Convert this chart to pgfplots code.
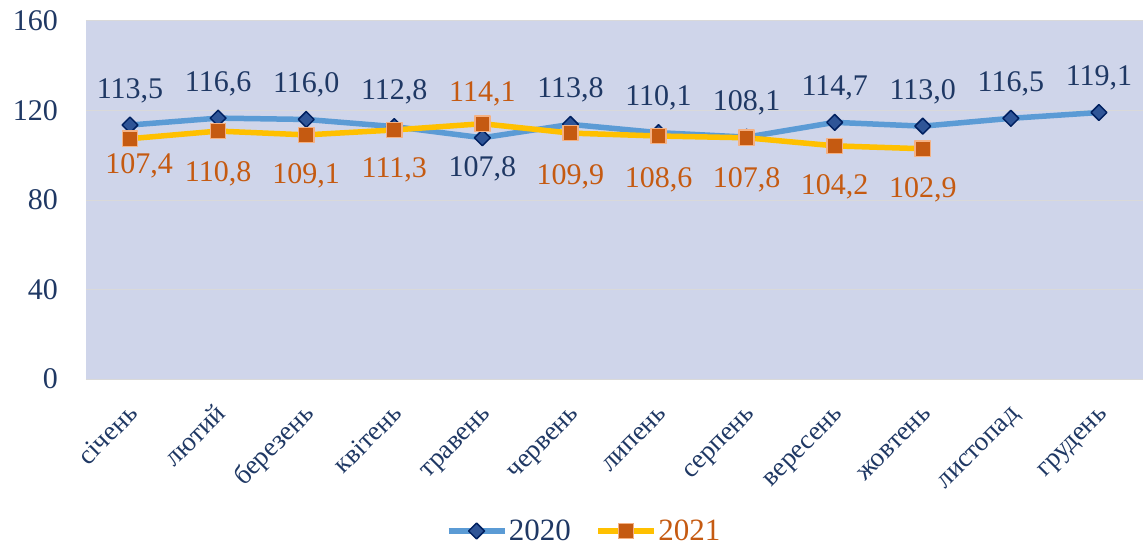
\documentclass[border=0pt]{standalone}
\usepackage{fontspec}
\setmainfont{Liberation Serif}
\usepackage{pgfplots}
\usepackage{pgfplotstable}
\pgfplotsset{compat=1.18}
\definecolor{bg}{HTML}{CFD5EA}
\definecolor{navy}{HTML}{1F3864}
\definecolor{orangetxt}{HTML}{C55A11}
\definecolor{bluel}{HTML}{5B9BD5}
\definecolor{bluem}{HTML}{2F5597}
\definecolor{blued}{HTML}{002060}
\definecolor{yell}{HTML}{FFC000}
\definecolor{orm}{HTML}{C55A11}
\definecolor{ored}{HTML}{F4B183}
\definecolor{gridc}{HTML}{D9D9D9}
\pgfplotstableread{
x y dx dy
0 113.5 0 27
1 116.6 0 27
2 116.0 0 27
3 112.8 0 27
4 107.8 0 -39
5 113.8 0 27
6 110.1 0 27
7 108.1 0 27
8 114.7 0 27
9 113.0 0 27
10 116.5 0 27
11 119.1 0 27
}\dataA
\pgfplotstableread{
x y dx dy
0 107.4 9 -35
1 110.8 0 -50
2 109.1 0 -49
3 111.3 0 -48
4 114.1 0 22
5 109.9 0 -51
6 108.6 0 -51
7 107.8 0 -50
8 104.2 0 -49
9 102.9 0 -49
}\dataB
\begin{document}
\begin{tikzpicture}
\path[use as bounding box] (-86pt,-167pt) rectangle (1057pt,379pt);
\begin{axis}[
  at={(0pt,0pt)}, anchor=south west,
  scale only axis, width=1057pt, height=358pt,
  xmin=-0.5, xmax=11.5, ymin=0, ymax=160,
  xtick={0,...,11},
  xticklabels={січень,лютий,березень,квітень,травень,червень,липень,серпень,вересень,жовтень,листопад,грудень},
  ytick={0,40,80,120,160},
  major tick length=0pt,
  axis line style={draw=none},
  axis background/.style={fill=bg},
  ymajorgrids, grid style={draw=gridc, line width=1pt},
  tick label style={text=navy},
  yticklabel style={font=\fontsize{30}{36}\selectfont, inner sep=0pt, xshift=-28pt},
  xticklabel style={font=\fontsize{27}{32}\selectfont, yshift=-31pt, xshift=4pt, rotate=45, anchor=north east, inner sep=0pt, text height=0.7em, text depth=0.2em},
  /pgf/number format/assume math mode=true,
  legend style={at={(0.471,-0.4246)}, anchor=center, draw=none, fill=none, font=\fontsize{31}{37}\selectfont, legend columns=2, /tikz/every even column/.append style={column sep=23pt}, nodes={inner sep=1.5pt}},
  legend image code/.code={\draw[mark repeat=2,mark phase=2,#1] plot coordinates {(0pt,0pt) (28pt,0pt) (56pt,0pt)};},
  nodes near coords={\pgfmathprintnumber[fixed,fixed zerofill,precision=1,use comma,assume math mode=true]{\pgfplotspointmeta}},
]
\addplot[color=bluel, line width=5.5pt, line join=round, mark=square*, mark size=5.6pt,
  mark options={rotate=45, fill=bluem, draw=blued, line width=1.5pt},
  point meta=y,
  visualization depends on={\thisrow{dy} \as \mydy},
  visualization depends on={\thisrow{dx} \as \mydx},
  every node near coord/.append style={anchor=base, inner sep=0pt, text=navy, font=\fontsize{30}{36}\selectfont, yshift=\mydy*1pt, xshift=\mydx*1pt}]
  table[x=x, y=y] {\dataA};
\addlegendentry{\textcolor{navy}{2020}}
\addplot[color=yell, line width=5.5pt, line join=round, mark=square*, mark size=7.6pt,
  mark options={fill=orm, draw=ored, line width=1.5pt},
  point meta=y,
  visualization depends on={\thisrow{dy} \as \mydy},
  visualization depends on={\thisrow{dx} \as \mydx},
  every node near coord/.append style={anchor=base, inner sep=0pt, text=orangetxt, font=\fontsize{30}{36}\selectfont, yshift=\mydy*1pt, xshift=\mydx*1pt}]
  table[x=x, y=y] {\dataB};
\addlegendentry{\textcolor{orangetxt}{2021}}
\end{axis}
\end{tikzpicture}
\end{document}
